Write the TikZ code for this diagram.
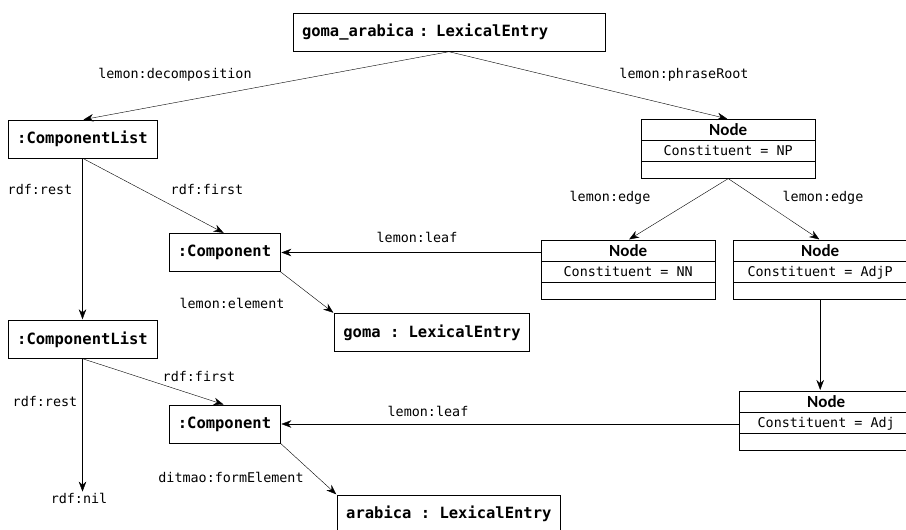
\documentclass[tikz,border=0pt]{standalone}
\usepackage{fontspec}
\setmonofont{DejaVu Sans Mono}
\newfontfamily\headfont{Carlito}
\usepackage{tikz}
\usetikzlibrary{arrows.meta, shapes.multipart}
\newcommand{\synhead}{\rule[-5pt]{0pt}{21pt}{\headfont\bfseries\fontsize{17}{18}\selectfont Node}}
\newcommand{\synrow}[1]{\rule[-5.5pt]{0pt}{20pt}{\ttfamily\fontsize{13.4}{16}\selectfont Constituent = #1}}
\newcommand{\synempty}{\rule{0pt}{17pt}}
\tikzset{>={Stealth[length=10pt,width=7.5pt]},shorten >=1pt,
    line width=1.3pt,
    obj/.style={draw,font=\ttfamily\bfseries\fontsize{15.5}{18}\selectfont,
        minimum height=38pt,inner xsep=9pt},
    synnode/.style={draw,rectangle split,rectangle split parts=3,
        minimum width=174pt,inner xsep=0pt,inner ysep=0pt,anchor=north west},
    lbl/.style={font=\ttfamily\fontsize{13.4}{16}\selectfont,inner sep=0pt}}

\begin{document}
\begin{tikzpicture}[x=1pt,y=-1pt]
\useasboundingbox (0,0) rectangle (906,530);
\clip (0,0) rectangle (906,530);
% objects
\node[obj,text width=294pt,align=left] (top) at (449,32.5) {goma\_arabica : LexicalEntry};
\node[obj] (cl1)      at (82.5,139)   {:ComponentList};
\node[obj] (comp1)    at (224.5,252.5) {:Component};
\node[obj] (goma)     at (432,332.5)  {goma : LexicalEntry};
\node[obj] (cl2)      at (82.5,339.5) {:ComponentList};
\node[obj] (comp2)    at (224.5,424)  {:Component};
\node[obj,anchor=north west] (arabica) at (337,495) {arabica : LexicalEntry};
\node[lbl] (nil)      at (79,498)     {rdf:nil};
% syntax tree
\node[synnode] (np)   at (641,119) {\synhead\nodepart{second}\synrow{NP}\nodepart{third}\synempty};
\node[synnode] (nn)   at (541,240) {\synhead\nodepart{second}\synrow{NN}\nodepart{third}\synempty};
\node[synnode] (adjp) at (733,240) {\synhead\nodepart{second}\synrow{AdjP}\nodepart{third}\synempty};
\node[synnode] (adj)  at (739,391) {\synhead\nodepart{second}\synrow{Adj}\nodepart{third}\synempty};
% connectors
\draw[->] (top.south) -- (cl1.north);
\draw[->] (top.south) -- (np.north);
\draw[->] (cl1.south) -- (cl2.north);
\draw[->] (cl1.south) -- (comp1.north);
\draw[->] (nn.west |- comp1.east) -- (comp1.east);
\draw[->] (comp1.south east) -- (goma.north west);
\draw[->] (np.south) -- (nn.north);
\draw[->] (np.south) -- (adjp.north);
\draw[->] (adjp.south) -- (adjp.south |- adj.north);
\draw[->] (adj.west |- comp2.east) -- (comp2.east);
\draw[->] (cl2.south) -- (cl2.south |- nil.north);
\draw[->] (cl2.south) -- (comp2.north);
\draw[->] (comp2.south east) -- (arabica.north west);
% labels
\node[lbl] (ldecomp) at (175,75)  {lemon:decomposition};
\node[lbl] (lroot)   at (684,75)  {lemon:phraseRoot};
\node[lbl] (lrest1)  at (40,190)  {rdf:rest};
\node[lbl] (lfirst1) at (207,190) {rdf:first};
\node[lbl] (lleaf1)  at (417,237) {lemon:leaf};
\node[lbl] (lelem)   at (232,303) {lemon:element};
\node[lbl] (ledge1)  at (610,198) {lemon:edge};
\node[lbl] (ledge2)  at (823,198) {lemon:edge};
\node[lbl] (lfirst2) at (199,377) {rdf:first};
\node[lbl] (lrest2)  at (45,402)  {rdf:rest};
\node[lbl] (lleaf2)  at (428,411) {lemon:leaf};
\node[lbl] (lform)   at (231,477) {ditmao:formElement};
\end{tikzpicture}
\end{document}
